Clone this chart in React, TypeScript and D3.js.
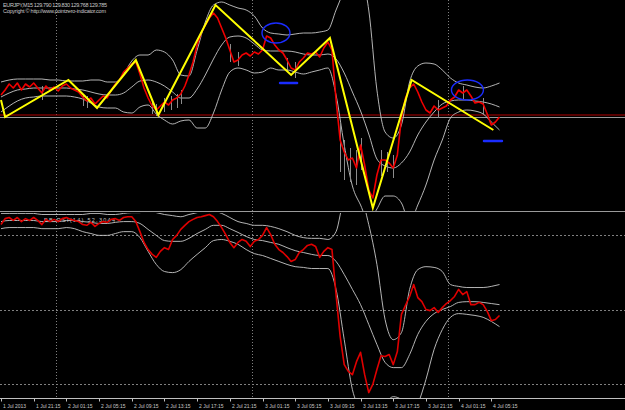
import * as d3 from 'd3';

const W = 625;
const H = 410;

// time axis: M15 bars, labels every 16 bars
const tickLabels = ['1 Jul 2013', '1 Jul 21:15', '2 Jul 01:15', '2 Jul 05:15', '2 Jul 09:15', '2 Jul 13:15', '2 Jul 17:15', '2 Jul 21:15', '3 Jul 01:15', '3 Jul 05:15', '3 Jul 09:15', '3 Jul 13:15', '3 Jul 17:15', '3 Jul 21:15', '4 Jul 01:15', '4 Jul 05:15'];
const dayBreaks = [27, 123, 219];

// closes, one value every 2 bars
const closes = [
  130.005, 130.055, 130.115, 130.075, 130.125, 130.055, 130.115, 130.085, 130.125, 130.075,
  130.025, 130.095, 130.055, 130.085, 130.045, 130.095, 130.115, 130.075, 130.055, 130.035,
  129.985, 129.945, 129.975, 129.915, 129.955, 129.995, 129.975, 130.055, 130.115, 130.155,
  130.235, 130.275, 130.315, 130.335, 130.215, 130.075, 129.975, 129.895, 129.855, 129.895,
  129.935, 129.905, 129.955, 129.975, 130.015, 130.095, 130.205, 130.335, 130.505, 130.625,
  130.705, 130.775, 130.825, 130.775, 130.675, 130.575, 130.455, 130.335, 130.355, 130.405,
  130.425, 130.395, 130.435, 130.415, 130.455, 130.595, 130.575, 130.505, 130.455, 130.425,
  130.355, 130.275, 130.255, 130.335, 130.375, 130.425, 130.415, 130.435, 130.385, 130.475,
  130.535, 130.455, 129.955, 129.555, 129.435, 129.355, 129.375, 129.275, 129.505, 129.305,
  129.055, 128.975, 129.205, 129.355, 129.355, 129.325, 129.275, 129.405, 129.775, 129.975,
  130.075, 130.115, 130.035, 129.935, 129.855, 129.825, 129.895, 129.855, 129.875, 129.895,
  129.955, 129.985, 130.055, 130.025, 130.055, 129.995, 129.925, 129.935, 129.915, 129.815,
  129.705, 129.735, 129.785,
];

// grey bar ranges that show past the close line
const wickBars = [20, 40, 42, 74, 76, 80, 83, 86, 88, 112, 116, 140, 144, 166, 168, 171, 174, 176, 186, 189, 192, 214, 226, 236];
const wickHighs = [130.095, 130.015, 129.995, 129.955, 129.915, 129.975, 129.995, 130.015, 130.055, 130.515, 130.435, 130.375, 130.335, 129.735, 129.555, 129.475, 129.455, 129.575, 129.455, 129.435, 129.405, 129.955, 130.095, 129.975];
const wickLows = [129.955, 129.895, 129.875, 129.815, 129.795, 129.835, 129.855, 129.875, 129.915, 130.335, 130.295, 130.235, 130.175, 129.235, 129.155, 129.135, 129.105, 129.255, 129.195, 129.235, 129.175, 129.775, 129.955, 129.815];

// oscillator in the lower window, one value every 2 bars
const rsi = [
  72.8, 74.4, 74.7, 73.9, 74.7, 73.6, 74.4, 73.9, 74.7, 73.9,
  72.8, 74.2, 73.6, 74.2, 73.6, 74.4, 74.7, 74.2, 73.9, 73.6,
  72.8, 72.6, 73.4, 72.3, 73.1, 73.6, 73.4, 74.2, 74.4, 73.9,
  74.7, 74.9, 74.9, 73.6, 70.9, 68.0, 66.1, 64.8, 64.0, 65.6,
  66.6, 66.1, 68.8, 69.9, 71.5, 72.6, 73.6, 74.2, 74.7, 74.9,
  75.2, 75.5, 74.9, 73.6, 72.0, 70.1, 68.0, 66.6, 68.0, 68.8,
  68.3, 66.9, 68.3, 68.8, 69.9, 72.0, 70.1, 67.5, 66.1, 65.3,
  64.2, 62.9, 63.4, 65.3, 66.1, 67.2, 67.5, 66.9, 64.0, 65.6,
  66.6, 66.1, 54.0, 42.8, 35.2, 33.4, 32.5, 36.0, 38.5, 32.5,
  27.7, 29.9, 33.9, 37.6, 37.4, 37.9, 35.2, 38.7, 48.7, 51.1,
  53.5, 56.7, 53.2, 52.1, 50.0, 49.7, 50.5, 49.2, 50.5, 51.6,
  52.4, 53.5, 55.4, 54.0, 54.8, 51.3, 51.3, 51.9, 51.3, 49.5,
  47.0, 47.3, 48.4,
];

// bands on price, one value every 4 bars
const bbUpper = [
  130.135, 130.155, 130.165, 130.165, 130.165, 130.165, 130.155, 130.155, 130.145, 130.145,
  130.145, 130.155, 130.155, 130.135, 130.135, 130.215, 130.345, 130.405, 130.405, 130.455,
  130.435, 130.355, 130.205, 130.195, 130.455, 130.735, 130.905, 130.935, 130.905, 130.875,
  130.855, 130.795, 130.675, 130.625, 130.615, 130.605, 130.615, 130.625, 130.625, 130.635,
  130.655, 130.855, 131.055, 131.255, 131.205, 130.855, 130.055, 129.635, 129.575, 129.705,
  130.135, 130.295, 130.325, 130.315, 130.255, 130.175, 130.125, 130.105, 130.085, 130.075,
  130.095, 130.125,
];
const bbMiddle = [
  129.985, 130.025, 130.055, 130.065, 130.075, 130.075, 130.075, 130.075, 130.075, 130.065,
  130.055, 130.035, 130.015, 130.005, 130.005, 130.025, 130.085, 130.145, 130.155, 130.135,
  130.095, 130.035, 129.975, 129.975, 130.065, 130.205, 130.365, 130.505, 130.585, 130.595,
  130.575, 130.515, 130.455, 130.445, 130.445, 130.445, 130.435, 130.415, 130.405, 130.405,
  130.415, 130.365, 130.225, 130.035, 129.845, 129.615, 129.365, 129.295, 129.275, 129.325,
  129.435, 129.605, 129.735, 129.835, 129.915, 129.945, 129.955, 129.955, 129.945, 129.935,
  129.915, 129.885,
];
const bbLower = [
  129.835, 129.895, 129.945, 129.975, 129.985, 129.995, 129.995, 129.995, 129.995, 129.985,
  129.965, 129.925, 129.885, 129.875, 129.875, 129.835, 129.825, 129.885, 129.905, 129.815,
  129.755, 129.715, 129.745, 129.755, 129.675, 129.675, 129.825, 130.055, 130.235, 130.275,
  130.255, 130.225, 130.235, 130.275, 130.255, 130.255, 130.235, 130.215, 130.235, 130.255,
  130.275, 130.005, 129.505, 129.095, 128.905, 128.735, 128.865, 128.995, 128.995, 128.925,
  128.735, 128.905, 129.105, 129.355, 129.555, 129.775, 129.835, 129.855, 129.845, 129.815,
  129.735, 129.655,
];

// bands on the oscillator, one value every 4 bars
const rsiUpper = [
  75.8, 75.8, 75.8, 75.8, 75.8, 75.5, 75.5, 75.5, 75.5, 75.5,
  75.5, 75.8, 75.8, 75.5, 75.5, 75.8, 76.0, 76.0, 76.3, 76.0,
  75.5, 75.2, 74.9, 75.5, 76.0, 76.3, 76.3, 75.8, 74.7, 73.6,
  73.1, 72.6, 72.6, 72.3, 71.7, 70.9, 69.9, 69.3, 69.1, 69.1,
  68.8, 70.9, 79.5, 80.9, 80.1, 72.8, 62.1, 47.3, 41.9, 43.8,
  55.4, 60.7, 61.5, 61.3, 60.2, 56.7, 56.2, 55.9, 55.9, 55.9,
  56.2, 56.7,
];
const rsiMiddle = [
  73.6, 73.9, 73.9, 73.9, 73.9, 73.6, 73.6, 73.6, 73.9, 73.9,
  73.6, 73.4, 73.1, 73.1, 73.4, 73.6, 73.6, 73.1, 71.5, 69.9,
  68.5, 68.3, 68.3, 69.1, 70.4, 71.5, 72.6, 72.6, 71.7, 70.7,
  69.6, 68.8, 68.5, 68.0, 67.5, 66.6, 65.8, 65.3, 64.8, 64.5,
  64.5, 62.9, 59.4, 55.4, 51.3, 46.0, 40.6, 35.8, 34.4, 34.4,
  37.9, 43.3, 46.8, 48.9, 50.0, 50.8, 51.9, 52.1, 52.1, 51.9,
  51.6, 51.3,
];
const rsiLower = [
  71.7, 72.0, 72.0, 72.0, 72.0, 71.7, 71.7, 71.7, 72.0, 71.7,
  70.9, 70.4, 69.9, 69.9, 70.4, 70.9, 70.9, 69.3, 65.6, 62.1,
  60.2, 59.9, 60.7, 62.9, 64.8, 66.6, 68.5, 68.8, 68.3, 67.5,
  66.1, 65.0, 64.5, 63.7, 62.9, 62.1, 61.5, 61.3, 61.0, 61.0,
  61.0, 55.4, 41.9, 28.5, 23.2, 20.5, 20.5, 24.5, 26.6, 25.8,
  20.5, 24.5, 31.2, 39.3, 44.6, 47.9, 48.9, 48.7, 48.4, 47.9,
  46.8, 45.4,
];
const rsiLevels = [70, 50, 30];

// zigzag swing points
const zigzagBars = [0, 2, 33, 47, 66, 77, 105, 142, 161, 182, 201, 241];
const zigzagPrices = [129.955, 129.785, 130.155, 129.875, 130.355, 129.805, 130.905, 130.205, 130.575, 128.875, 130.155, 129.655];

// hand-drawn blue marks
const circleBars = [134.6, 228.3];
const circlePrices = [130.625, 130.055];
const dashBars = [[136.6, 144.9], [236.4, 245.2]];
const dashPrices = [130.125, 129.545];

const bidPrice = 129.785;
const askLinePrice = 129.805;

const FONT = "'Liberation Sans', Arial, sans-serif";
const TXT = '#c8c8c8';
const BAND = '#c8c8c8';

export default function App() {
  const x = d3.scaleLinear().domain([0, 244]).range([1, 499.5]);
  const yP = d3.scaleLinear().domain([128.955, 130.955]).range([200, 0]);
  const yR = d3.scaleLinear().domain([30, 70]).range([384, 235]);

  const closeLine = d3.line<number>().x((_, i) => x(i * 2)).y((d) => yP(d));
  const bandLine = d3.line<number>().x((_, i) => x(i * 4)).y((d) => yP(d)).curve(d3.curveMonotoneX);
  const rsiLine = d3.line<number>().x((_, i) => x(i * 2)).y((d) => yR(d));
  const rsiBand = d3.line<number>().x((_, i) => x(i * 4)).y((d) => yR(d)).curve(d3.curveMonotoneX);
  const zig = d3.line<number>().x((d) => x(d)).y((_, i) => yP(zigzagPrices[i]));

  const axisY = 398.5;

  return (
    <div style={{ position: 'fixed', left: 0, top: 0, width: W, height: H, background: '#000' }}>
      <svg width={W} height={H} style={{ display: 'block' }}>
        <defs>
          <clipPath id="topClip"><rect x={0} y={0} width={W} height={211} /></clipPath>
          <clipPath id="botClip"><rect x={0} y={213} width={W} height={185} /></clipPath>
        </defs>
        <rect width={W} height={H} fill="#000" />

        {/* day separators */}
        {dayBreaks.map((b) => (
          <line key={b} x1={Math.round(x(b)) + 0.5} x2={Math.round(x(b)) + 0.5} y1={0} y2={axisY} stroke="#808080" strokeDasharray="1,2" />
        ))}

        {/* main window */}
        <g clipPath="url(#topClip)">
          <line x1={0} x2={W} y1={yP(askLinePrice)} y2={yP(askLinePrice)} stroke="#b00000" strokeWidth={1} />
          <line x1={0} x2={W} y1={yP(bidPrice) + 0.5} y2={yP(bidPrice) + 0.5} stroke="#9a9a9a" strokeWidth={1.2} />
          {[bbUpper, bbMiddle, bbLower].map((s, i) => (
            <path key={i} d={bandLine(s) ?? undefined} fill="none" stroke={BAND} strokeWidth={0.9} />
          ))}
          {wickBars.map((b, i) => (
            <line key={b} x1={Math.round(x(b)) + 0.5} x2={Math.round(x(b)) + 0.5} y1={yP(wickHighs[i])} y2={yP(wickLows[i])} stroke="#8c8c8c" strokeWidth={1} />
          ))}
          <path d={closeLine(closes) ?? undefined} fill="none" stroke="#f00000" strokeWidth={1.6} strokeLinejoin="round" />
          <path d={zig(zigzagBars) ?? undefined} fill="none" stroke="#ffff00" strokeWidth={2} />
          {circleBars.map((b, i) => (
            <ellipse key={i} cx={x(b)} cy={yP(circlePrices[i])} rx={i === 0 ? 14 : 16} ry={10} fill="none" stroke="#1a2cff" strokeWidth={1.4} />
          ))}
          {dashBars.map(([a, b], i) => (
            <line key={i} x1={x(a)} x2={x(b)} y1={yP(dashPrices[i])} y2={yP(dashPrices[i])} stroke="#1a2cff" strokeWidth={2.5} strokeLinecap="round" />
          ))}
        </g>

        <text x={3} y={7} fontFamily={FONT} fontSize={5.5} fill={TXT} textLength={104}>EURJPY,M15  129.790 129.830 129.768 129.785</text>
        <text x={3} y={13} fontFamily={FONT} fontSize={5.5} fill={TXT} textLength={103}>Copyright © http://www.pointzero-indicator.com</text>

        {/* window separator */}
        <line x1={0} x2={W} y1={211.5} y2={211.5} stroke="#9a9a9a" />

        {/* lower window */}
        <g clipPath="url(#botClip)">
          {rsiLevels.map((l) => (
            <line key={l} x1={0} x2={W} y1={Math.round(yR(l)) + 0.5} y2={Math.round(yR(l)) + 0.5} stroke="#808080" strokeDasharray="2,2" />
          ))}
          <text x={44} y={222} fontFamily={FONT} fontSize={5.5} fill={TXT} textLength={71}>BB RSI(14) 52.3044</text>
          {[rsiUpper, rsiMiddle, rsiLower].map((s, i) => (
            <path key={i} d={rsiBand(s) ?? undefined} fill="none" stroke={BAND} strokeWidth={0.9} />
          ))}
          <path d={rsiLine(rsi) ?? undefined} fill="none" stroke="#e00000" strokeWidth={1.6} strokeLinejoin="round" />
        </g>

        {/* time axis */}
        <line x1={0} x2={W} y1={axisY} y2={axisY} stroke="#c0c0c0" />
        {tickLabels.map((t, i) => {
          const tx = Math.round(x(i * 16)) + 0.5;
          return (
            <g key={t}>
              <line x1={tx} x2={tx} y1={axisY} y2={axisY + 3} stroke="#c0c0c0" />
              <text x={tx + 1.5} y={408} fontFamily={FONT} fontSize={5} fill={TXT}>{t}</text>
            </g>
          );
        })}
      </svg>
    </div>
  );
}
